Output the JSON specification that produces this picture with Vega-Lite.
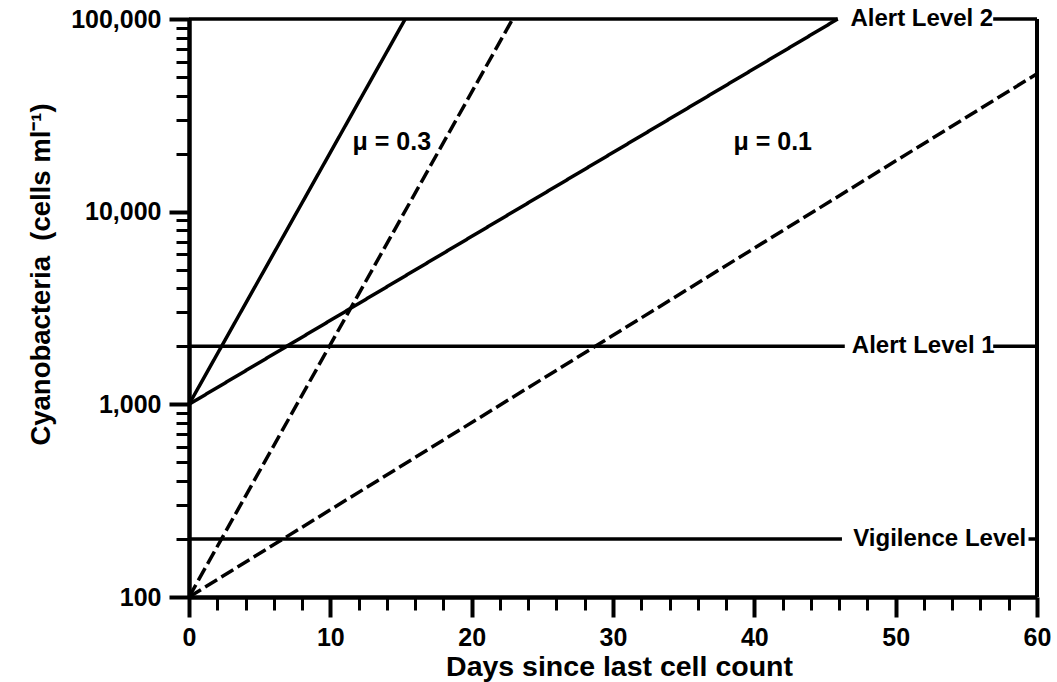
{
  "$schema": "https://vega.github.io/schema/vega-lite/v6.json",
  "width": 848,
  "height": 578,
  "autosize": {"type": "none"},
  "padding": {"left": 189, "top": 19, "right": 20, "bottom": 85},
  "background": "white",
  "config": {
    "view": {"stroke": null},
    "font": "Liberation Sans",
    "axis": {
      "grid": false,
      "domainColor": "black",
      "tickColor": "black",
      "labelColor": "black",
      "titleColor": "black",
      "labelFont": "Liberation Sans",
      "titleFont": "Liberation Sans",
      "titleFontWeight": "bold",
      "labelFontWeight": "bold",
      "labelFlush": false,
      "labelOverlap": false,
      "labelBound": false
    }
  },
  "datasets": {
    "curves": [
      {"line": "a", "mu": 0.3, "start": "1000", "day": 0, "cells": 1000},
      {"line": "a", "mu": 0.3, "start": "1000", "day": 15.3, "cells": 100000},
      {"line": "b", "mu": 0.3, "start": "100", "day": 0, "cells": 100},
      {"line": "b", "mu": 0.3, "start": "100", "day": 22.9, "cells": 100000},
      {"line": "c", "mu": 0.1, "start": "1000", "day": 0, "cells": 1000},
      {"line": "c", "mu": 0.1, "start": "1000", "day": 45.9, "cells": 100000},
      {"line": "d", "mu": 0.1, "start": "100", "day": 0, "cells": 100},
      {"line": "d", "mu": 0.1, "start": "100", "day": 60, "cells": 52000}
    ],
    "levels": [
      {"level": "Alert Level 2", "cells": 100000, "from": 0, "to": 45.9},
      {"level": "Alert Level 2", "cells": 100000, "from": 56.9, "to": 60},
      {"level": "Alert Level 1", "cells": 2000, "from": 0, "to": 46.4},
      {"level": "Alert Level 1", "cells": 2000, "from": 56.9, "to": 60},
      {"level": "Vigilence Level", "cells": 200, "from": 0, "to": 46.2},
      {"level": "Vigilence Level", "cells": 200, "from": 59.4, "to": 60}
    ],
    "frame": [
      {"day": 60, "low": 100, "high": 100000}
    ],
    "levelLabels": [
      {"label": "Alert Level 2", "day": 46.8, "cells": 100000},
      {"label": "Alert Level 1", "day": 46.9, "cells": 2000},
      {"label": "Vigilence Level", "day": 47.0, "cells": 200}
    ],
    "muLabels": [
      {"label": "μ = 0.3", "day": 14.35, "cells": 23000},
      {"label": "μ = 0.1", "day": 41.3, "cells": 23000}
    ]
  },
  "layer": [
    {
      "data": {"name": "curves"},
      "mark": {"type": "line", "strokeWidth": 3.5, "color": "black"},
      "encoding": {
        "x": {
          "field": "day", "type": "quantitative",
          "scale": {"domain": [0, 60], "nice": false, "zero": false},
          "axis": {
            "values": [0, 10, 20, 30, 40, 50, 60],
            "format": "d",
            "domainWidth": 4.5,
            "tickWidth": 4,
            "tickSize": 20,
            "labelFontSize": 25,
            "labelPadding": 8,
            "title": "Days since last cell count",
            "titleFontSize": 28.5,
            "titleBaseline": "alphabetic",
            "titleAlign": "center",
            "titleX": 430,
            "titleY": 78
          }
        },
        "y": {
          "field": "cells", "type": "quantitative",
          "scale": {"type": "log", "domain": [100, 100000], "nice": false},
          "axis": {
            "values": [100, 1000, 10000, 100000],
            "format": ",",
            "domainWidth": 4.5,
            "tickWidth": 4,
            "tickSize": 20,
            "labelFontSize": 25,
            "labelPadding": 8,
            "title": "Cyanobacteria\u00a0 (cells ml⁻¹)",
            "titleFontSize": 27.5,
            "titleAngle": -90,
            "titleBaseline": "alphabetic",
            "titleAlign": "center",
            "titleX": -140,
            "titleY": 255
          }
        },
        "detail": {"field": "line"},
        "strokeDash": {
          "field": "start", "type": "nominal",
          "scale": {"domain": ["1000", "100"], "range": [[1, 0], [14, 5]]},
          "legend": null
        }
      }
    },
    {
      "data": {"name": "levels"},
      "mark": {"type": "rule", "strokeWidth": 3.5, "color": "black"},
      "encoding": {
        "x": {
          "field": "from", "type": "quantitative",
          "axis": {
            "orient": "bottom",
            "values": [2, 4, 6, 8, 12, 14, 16, 18, 22, 24, 26, 28, 32, 34, 36, 38, 42, 44, 46, 48, 52, 54, 56, 58],
            "labels": false,
            "domain": false,
            "tickWidth": 3,
            "tickSize": 13,
            "title": null
          }
        },
        "x2": {"field": "to"},
        "y": {
          "field": "cells", "type": "quantitative",
          "axis": {
            "orient": "left",
            "values": [200, 300, 400, 500, 600, 700, 800, 900, 2000, 3000, 4000, 5000, 6000, 7000, 8000, 9000, 20000, 30000, 40000, 50000, 60000, 70000, 80000, 90000],
            "labels": false,
            "domain": false,
            "tickWidth": 3,
            "tickSize": 13,
            "title": null
          }
        }
      }
    },
    {
      "data": {"name": "frame"},
      "mark": {"type": "rule", "strokeWidth": 4, "color": "black"},
      "encoding": {
        "x": {"field": "day", "type": "quantitative", "axis": null},
        "y": {"field": "low", "type": "quantitative", "axis": null},
        "y2": {"field": "high"}
      }
    },
    {
      "data": {"name": "levelLabels"},
      "mark": {"type": "text", "align": "left", "baseline": "middle", "fontSize": 24, "fontWeight": "bold", "color": "black", "font": "Liberation Sans"},
      "encoding": {
        "x": {"field": "day", "type": "quantitative", "axis": null},
        "y": {"field": "cells", "type": "quantitative", "axis": null},
        "text": {"field": "label"}
      }
    },
    {
      "data": {"name": "muLabels"},
      "mark": {"type": "text", "align": "center", "baseline": "middle", "fontSize": 25, "fontWeight": "bold", "color": "black", "font": "Liberation Sans"},
      "encoding": {
        "x": {"field": "day", "type": "quantitative", "axis": null},
        "y": {"field": "cells", "type": "quantitative", "axis": null},
        "text": {"field": "label"}
      }
    }
  ],
  "resolve": {"axis": {"x": "independent", "y": "independent"}}
}
